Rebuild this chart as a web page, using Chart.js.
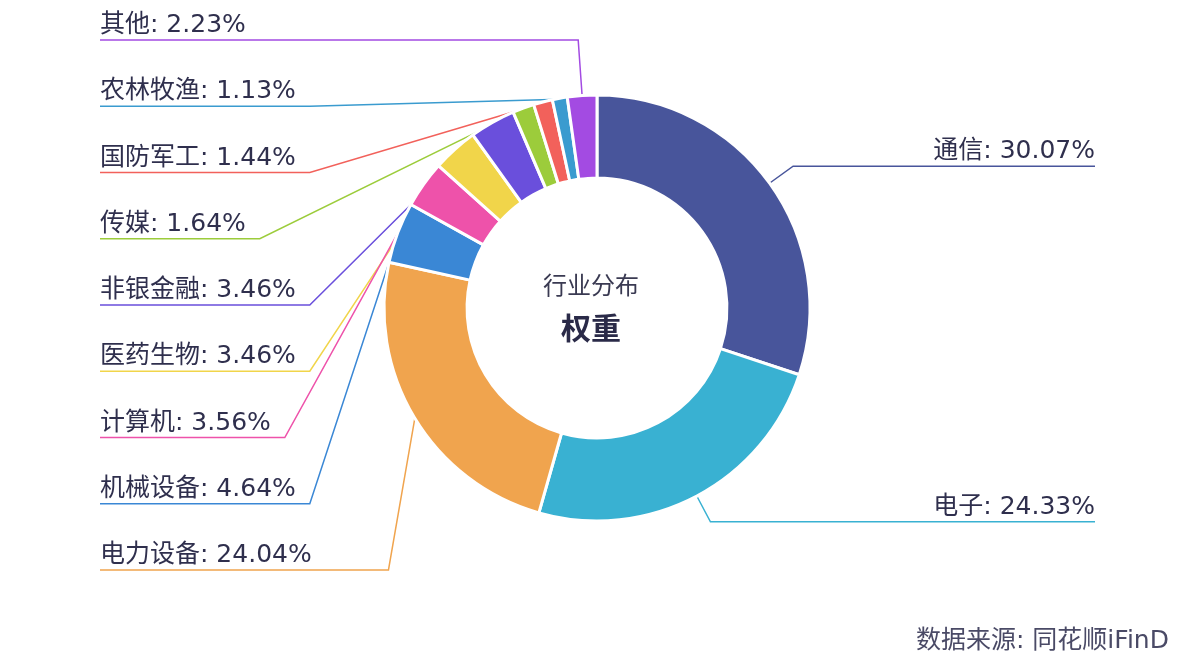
<!DOCTYPE html>
<html>
<head>
<meta charset="utf-8">
<script src="https://cdn.jsdelivr.net/npm/chart.js@4.4.1/dist/chart.umd.min.js"></script>
<style>
  html, body { margin: 0; padding: 0; background: #fff; }
  #wrap { width: 1196px; height: 662px; position: relative; }
</style>
</head>
<body>
<div id="wrap"><canvas id="chart"></canvas></div>
<script>
// industry weights, clockwise from 12 o'clock
const industries = ['通信', '电子', '电力设备', '机械设备', '计算机', '医药生物', '非银金融', '传媒', '国防军工', '农林牧渔', '其他'];
const weights = [30.07, 24.33, 24.04, 4.64, 3.56, 3.46, 3.46, 1.64, 1.44, 1.13, 2.23];
const colors = ['#48559b', '#39b1d2', '#f0a44e', '#3a87d5', '#ee52aa', '#f1d54a', '#6a4fdc', '#9ccc3b', '#f2615b', '#3a9bcf', '#a34be2'];

const centerTitle = '行业分布';
const centerSub = '权重';
const sourceNote = '数据来源: 同花顺iFinD';

const LABEL_FONT = "25px 'DejaVu Sans', 'Noto Sans CJK SC', sans-serif";
const TEXT_COLOR = '#2f2f4d';

const labelText = i => industries[i] + ': ' + weights[i].toFixed(2) + '%';

// work out where each label and its leader line go
function layoutLabels(chart) {
  const ctx = chart.ctx;
  const arcs = chart.getDatasetMeta(0).data;
  const left = [], right = [];
  arcs.forEach((arc, i) => {
    const mid = (arc.startAngle + arc.endAngle) / 2;
    const item = { i, arc, cos: Math.cos(mid), sin: Math.sin(mid) };
    (item.cos >= 0 ? right : left).push(item);
  });
  left.sort((a, b) => a.sin - b.sin);

  ctx.save();
  ctx.font = LABEL_FONT;
  const out = [];
  const leftX = 100, topY = 40, bottomY = 570;
  left.forEach((it, k) => {
    const { arc, cos, sin, i } = it;
    const cx = arc.x, cy = arc.y;
    const r0 = arc.outerRadius - 1;
    const p0 = { x: cx + cos * r0, y: cy + sin * r0 };
    const slotY = left.length > 1 ? topY + k * (bottomY - topY) / (left.length - 1) : topY;
    const textEnd = leftX + ctx.measureText(labelText(i)).width;
    let ex = textEnd + 14;
    if (sin < 0 && slotY < p0.y) {
      ex = Math.max(ex, cx + cos * (slotY - cy) / sin);
    } else if (sin > 0) {
      ex = Math.max(ex, cx + cos * (arc.outerRadius + 30));
    }
    out.push({ i, side: 'left', pts: [p0, { x: ex, y: slotY }, { x: leftX, y: slotY }], tx: leftX, ty: slotY - 8 });
  });
  const rightX = 1095;
  right.forEach(it => {
    const { arc, cos, sin, i } = it;
    const cx = arc.x, cy = arc.y;
    const r0 = arc.outerRadius - 1;
    const r1 = arc.outerRadius + 29;
    const p0 = { x: cx + cos * r0, y: cy + sin * r0 };
    const p1 = { x: cx + cos * r1, y: cy + sin * r1 };
    out.push({ i, side: 'right', pts: [p0, p1, { x: rightX, y: p1.y }], tx: rightX, ty: p1.y - 8 });
  });
  ctx.restore();
  return out;
}

const leaderLabels = {
  id: 'leaderLabels',
  beforeDatasetsDraw(chart) {
    // lines go under the ring so the slices hide their ends
    const ctx = chart.ctx;
    chart.$labels = layoutLabels(chart);
    ctx.save();
    ctx.lineWidth = 1.5;
    chart.$labels.forEach(l => {
      ctx.strokeStyle = colors[l.i];
      ctx.beginPath();
      ctx.moveTo(l.pts[0].x, l.pts[0].y);
      ctx.lineTo(l.pts[1].x, l.pts[1].y);
      ctx.lineTo(l.pts[2].x, l.pts[2].y);
      ctx.stroke();
    });
    ctx.restore();
  },
  afterDatasetsDraw(chart) {
    const ctx = chart.ctx;
    ctx.save();
    ctx.font = LABEL_FONT;
    ctx.fillStyle = TEXT_COLOR;
    ctx.textBaseline = 'alphabetic';
    chart.$labels.forEach(l => {
      ctx.textAlign = l.side === 'left' ? 'left' : 'right';
      ctx.fillText(labelText(l.i), l.tx, l.ty);
    });

    // centre text
    const c = chart.getDatasetMeta(0).data[0];
    ctx.textAlign = 'center';
    ctx.textBaseline = 'middle';
    ctx.fillStyle = '#3a3a52';
    ctx.font = "24px 'Noto Sans CJK SC', sans-serif";
    ctx.fillText(centerTitle, c.x - 6, c.y - 23);
    ctx.fillStyle = '#2a2a48';
    ctx.font = "bold 30px 'Noto Sans CJK SC', sans-serif";
    ctx.fillText(centerSub, c.x - 6, c.y + 20);

    // source note
    ctx.textAlign = 'left';
    ctx.fillStyle = '#4a4a66';
    ctx.font = LABEL_FONT;
    ctx.fillText(sourceNote, 916, 641);
    ctx.restore();
  }
};

new Chart(document.getElementById('chart'), {
  type: 'doughnut',
  data: {
    labels: industries,
    datasets: [{
      data: weights,
      backgroundColor: colors,
      borderColor: '#ffffff',
      borderWidth: 3
    }]
  },
  options: {
    responsive: true,
    maintainAspectRatio: false,
    animation: false,
    cutout: '61%',
    layout: { padding: { left: 382.5, right: 384.5, top: 93.5, bottom: 139.5 } },
    plugins: {
      legend: { display: false },
      tooltip: { enabled: false }
    }
  },
  plugins: [leaderLabels]
});
</script>
</body>
</html>
